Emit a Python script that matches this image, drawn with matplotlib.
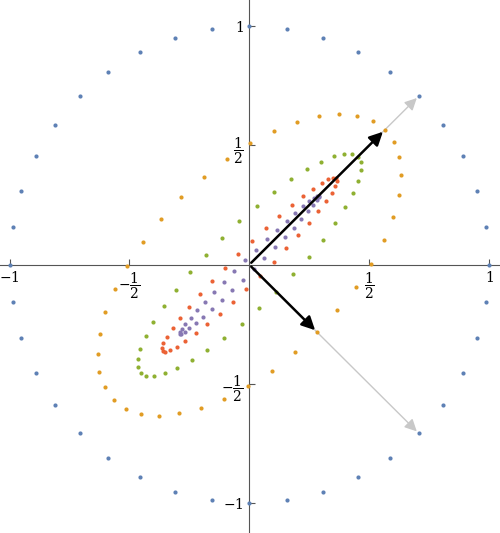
import numpy as np
import matplotlib.pyplot as plt

# symmetric map (eigenvectors at +-45 deg, eigenvalues 0.8 / 0.4)
matrix = [[0.6, 0.2], [0.2, 0.6]]
n_points = 40
powers = [0, 1, 2, 3, 4]
colors = ["#5E81B5", "#E19C24", "#8FB032", "#EB6235", "#8778B3"]
eigvecs = [[0.7071, 0.7071], [0.7071, -0.7071]]
eigvals = [0.8, 0.4]

plt.rcParams["mathtext.fontset"] = "dejavuserif"

A = np.array(matrix)
ang = np.arange(n_points) * 2 * np.pi / n_points
circle = np.vstack([np.cos(ang), np.sin(ang)])

fig = plt.figure(figsize=(5, 5.33), dpi=100)
ax = fig.add_axes([0, 0, 1, 1])

for p, c in zip(powers, colors):
    pts = np.linalg.matrix_power(A, p) @ circle
    ax.scatter(pts[0], pts[1], s=9, color=c, zorder=3, linewidths=0)

for v, lam in zip(eigvecs, eigvals):
    ax.annotate("", xy=(v[0], v[1]), xytext=(0, 0),
                arrowprops=dict(arrowstyle="-|>", color="#c8c8c8", lw=1,
                                mutation_scale=18), zorder=2)
    ax.annotate("", xy=(lam * v[0], lam * v[1]), xytext=(0, 0),
                arrowprops=dict(arrowstyle="-|>", color="black", lw=1.8,
                                mutation_scale=20), zorder=4)

ax.set_xlim(-1.04, 1.046)
ax.set_ylim(-1.125, 1.11)
for side in ["top", "right"]:
    ax.spines[side].set_visible(False)
ax.spines["left"].set_position(("data", 0))
ax.spines["bottom"].set_position(("data", 0))
for side in ["left", "bottom"]:
    ax.spines[side].set_color("#555555")
    ax.spines[side].set_linewidth(0.8)

ticks = [-1, -0.5, 0.5, 1]
labels = ["$-1$", r"$-\dfrac{1}{2}$", r"$\dfrac{1}{2}$", "$1$"]
ax.set_xticks(ticks)
ax.set_xticklabels(labels, fontsize=10)
ax.set_yticks(ticks)
ax.set_yticklabels(labels, fontsize=10)
ax.tick_params(direction="in", length=4, width=0.8, color="#555555", pad=4)

fig.savefig("out.png", dpi=100)
